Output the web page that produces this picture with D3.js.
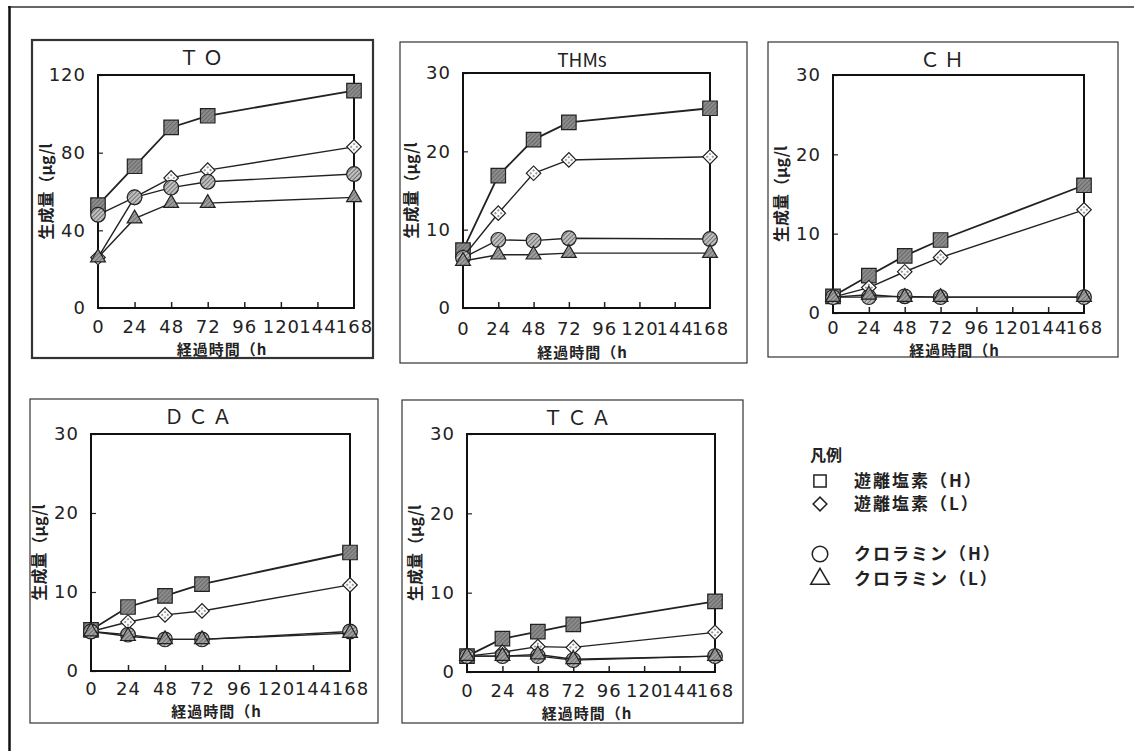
<!DOCTYPE html>
<html>
<head>
<meta charset="utf-8">
<script src="https://cdn.jsdelivr.net/npm/d3@7"></script>
<style>
  body { margin: 0; background: #fff; }
  svg { display: block; }
  .jp { font-family: "Noto Sans CJK JP", sans-serif; fill: #222; }
</style>
</head>
<body>
<div id="chart"></div>
<script>
// hours after chlorination
var hours = [0, 24, 48, 72, 168]
var xTicks = [0, 24, 48, 72, 96, 120, 144, 168]

var seriesNames = ["遊離塩素（H）", "遊離塩素（L）", "クロラミン（H）", "クロラミン（L）"]
var seriesShapes = ["square", "diamond", "circle", "triangle"]

// values per panel: [free H, free L, chloramine H, chloramine L]
var toValues = [
    [53, 73, 93, 99, 112],
    [26, 57, 67, 71, 83],
    [48, 57, 62, 65, 69],
    [26, 46, 54, 54, 57]
]
var thmValues = [
    [7.4, 16.9, 21.5, 23.7, 25.5],
    [6.5, 12.1, 17.2, 18.9, 19.3],
    [6.4, 8.7, 8.6, 8.9, 8.8],
    [6.0, 6.8, 6.8, 7.0, 7.0]
]
var chValues = [
    [2.1, 4.7, 7.2, 9.2, 16.1],
    [2.0, 3.2, 5.2, 7.0, 13.0],
    [2.0, 2.0, 2.1, 2.0, 2.0],
    [2.0, 2.3, 2.0, 2.0, 2.0]
]
var dcaValues = [
    [5.2, 8.1, 9.5, 11.0, 15.0],
    [5.0, 6.2, 7.1, 7.6, 10.9],
    [5.0, 4.6, 4.0, 4.0, 5.0],
    [5.0, 4.4, 4.0, 4.0, 4.8]
]
var tcaValues = [
    [2.0, 4.2, 5.1, 6.0, 8.9],
    [2.0, 2.5, 3.2, 3.1, 5.0],
    [2.0, 2.0, 2.0, 1.5, 2.0],
    [2.0, 2.0, 2.2, 1.6, 2.0]
]

var titles = ["ＴＯ", "THMs", "ＣＨ", "ＤＣＡ", "ＴＣＡ"]
var yMaxes = [120, 30, 30, 30, 30]
var yTickSets = [[0, 40, 80, 120], [0, 10, 20, 30], [0, 10, 20, 30], [0, 10, 20, 30], [0, 10, 20, 30]]

var yLabel = "生成量（μg/l"
var xLabel = "経過時間（h"
var legendTitle = "凡例"

// layout: outer box, plot area, tick label / axis title offsets below the plot
var layout = [
    { box: [32, 40, 373, 358], plot: [98, 75, 354, 308], titleX: 203, tickY: 19, labelY: 47, heavy: true },
    { box: [400, 42, 747, 363], plot: [463, 73, 710, 308], titleX: 582, tickY: 21, labelY: 50 },
    { box: [768, 42, 1118, 357], plot: [833, 75, 1084, 313], titleX: 944, tickY: 15, labelY: 42.5 },
    { box: [30, 399, 378, 723], plot: [91, 434, 350, 671], titleX: 200, tickY: 18, labelY: 46 },
    { box: [402, 400, 743, 723], plot: [467, 434, 715, 672], titleX: 579, tickY: 19, labelY: 47 }
]
var panelData = [toValues, thmValues, chValues, dcaValues, tcaValues]

var w = 1134, h = 751

var svg = d3.select("#chart").append("svg")
    .attr("width", w)
    .attr("height", h)

// hatch patterns for the markers
var defs = svg.append("defs")

function hatch(id, bg, line, gap) {
    var p = defs.append("pattern")
        .attr("id", id)
        .attr("patternUnits", "userSpaceOnUse")
        .attr("width", gap).attr("height", gap)
        .attr("patternTransform", "rotate(45)")
    p.append("rect").attr("width", gap).attr("height", gap).attr("fill", bg)
    p.append("line").attr("x1", 0).attr("y1", 0).attr("x2", 0).attr("y2", gap)
        .attr("stroke", line).attr("stroke-width", 1.3)
}
hatch("hSquare", "#8c8c8c", "#555", 3)
hatch("hCircle", "#c0c0c0", "#444", 3)
hatch("hTriangle", "#a0a0a0", "#555", 3)
var dp = defs.append("pattern")
    .attr("id", "hDiamond")
    .attr("patternUnits", "userSpaceOnUse")
    .attr("width", 4).attr("height", 4)
dp.append("rect").attr("width", 4).attr("height", 4).attr("fill", "#fff")
dp.append("rect").attr("x", 1).attr("y", 1).attr("width", 2).attr("height", 2).attr("fill", "#999")

var markerFill = ["url(#hSquare)", "url(#hDiamond)", "url(#hCircle)", "url(#hTriangle)"]
var symbolType = {
    square: d3.symbolSquare,
    diamond: d3.symbolSquare,
    circle: d3.symbolCircle,
    triangle: d3.symbolTriangle
}
var symbolSize = { square: 210, diamond: 105, circle: 170, triangle: 95 }
var symbolRotate = { square: 0, diamond: 45, circle: 0, triangle: 0 }

// page frame
svg.append("line").attr("x1", 8).attr("y1", 7).attr("x2", w).attr("y2", 7)
    .attr("stroke", "#666").attr("stroke-width", 2)
svg.append("line").attr("x1", 9.5).attr("y1", 6).attr("x2", 9.5).attr("y2", h)
    .attr("stroke", "#111").attr("stroke-width", 2.5)

function styleTicks(sel) {
    sel.selectAll(".tick text")
        .attr("fill", "#222")
        .style("font-family", "'DejaVu Sans', sans-serif")
        .style("font-size", "18px")
        .style("letter-spacing", "1px")
}

layout.forEach(function(L, i) {
    var values = panelData[i]
    var g = svg.append("g")

    g.append("rect")
        .attr("x", L.box[0]).attr("y", L.box[1])
        .attr("width", L.box[2] - L.box[0]).attr("height", L.box[3] - L.box[1])
        .attr("fill", "none")
        .attr("stroke", "#333")
        .attr("stroke-width", L.heavy ? 2.2 : 1.2)

    var x = d3.scaleLinear().domain([0, 168]).range([L.plot[0], L.plot[2]])
    var y = d3.scaleLinear().domain([0, yMaxes[i]]).range([L.plot[3], L.plot[1]])

    // axes with inward ticks
    var xa = g.append("g")
        .attr("transform", "translate(0," + L.plot[3] + ")")
        .call(d3.axisBottom(x).tickValues(xTicks).tickSize(-6).tickFormat(d3.format("d")))
    xa.select(".domain").remove()
    xa.selectAll(".tick line").attr("stroke", "#222").attr("stroke-width", 1.5)
        .filter(function(d) { return d === 0 || d === 168 }).remove()
    styleTicks(xa)
    xa.selectAll(".tick text").attr("y", L.tickY).attr("dy", "0.35em")

    var ya = g.append("g")
        .attr("transform", "translate(" + L.plot[0] + ",0)")
        .call(d3.axisLeft(y).tickValues(yTickSets[i]).tickSize(-5).tickPadding(12))
    ya.select(".domain").remove()
    ya.selectAll(".tick line").attr("stroke", "#222").attr("stroke-width", 1.2)
    styleTicks(ya)

    g.append("rect")
        .attr("x", L.plot[0]).attr("y", L.plot[1])
        .attr("width", L.plot[2] - L.plot[0]).attr("height", L.plot[3] - L.plot[1])
        .attr("fill", "none")
        .attr("stroke", "#111")
        .attr("stroke-width", 2)

    g.append("text")
        .attr("class", "jp")
        .attr("x", L.titleX).attr("y", L.box[1] + 18)
        .attr("dy", "0.35em")
        .attr("text-anchor", "middle")
        .style("font-size", i === 1 ? "19px" : "20px")
        .style("letter-spacing", i === 1 ? "0px" : "4px")
        .text(titles[i])

    g.append("text")
        .attr("class", "jp")
        .attr("transform", "translate(" + (L.plot[0] - 52) + "," + ((L.plot[1] + L.plot[3]) / 2) + ") rotate(-90)")
        .attr("dy", "0.35em")
        .attr("text-anchor", "middle")
        .style("font-size", "16px")
        .style("font-weight", "bold")
        .text(yLabel)

    g.append("text")
        .attr("class", "jp")
        .attr("x", (L.plot[0] + L.plot[2]) / 2 - 4).attr("y", L.plot[3] + L.labelY)
        .attr("text-anchor", "middle")
        .style("font-size", "15px")
        .style("font-weight", "bold")
        .style("letter-spacing", "1px")
        .text(xLabel)

    var line = d3.line()
        .x(function(d, k) { return x(hours[k]) })
        .y(function(d) { return y(d) })

    values.forEach(function(vals, s) {
        g.append("path")
            .attr("d", line(vals))
            .attr("fill", "none")
            .attr("stroke", "#222")
            .attr("stroke-width", s === 0 ? 1.8 : 1.4)

        var shape = seriesShapes[s]
        g.selectAll(".m" + s)
            .data(vals)
            .enter().append("path")
            .attr("class", "m" + s)
            .attr("transform", function(d, k) {
                return "translate(" + x(hours[k]) + "," + y(d) + ") rotate(" + symbolRotate[shape] + ")"
            })
            .attr("d", d3.symbol().type(symbolType[shape]).size(symbolSize[shape]))
            .attr("fill", markerFill[s])
            .attr("stroke", "#222")
            .attr("stroke-width", 1.2)
    })
})

// legend
var lg = svg.append("g").attr("transform", "translate(808,0)")
lg.append("text")
    .attr("class", "jp")
    .attr("x", 2).attr("y", 455)
    .attr("dy", "0.35em")
    .style("font-size", "16px")
    .style("font-weight", "bold")
    .text(legendTitle)

var legendY = [481, 504, 554, 579]
var legendSize = { square: 150, diamond: 95, circle: 190, triangle: 150 }
seriesNames.forEach(function(name, s) {
    var shape = seriesShapes[s]
    lg.append("path")
        .attr("transform", "translate(12," + legendY[s] + ") rotate(" + symbolRotate[shape] + ")")
        .attr("d", d3.symbol().type(symbolType[shape]).size(legendSize[shape]))
        .attr("fill", "none")
        .attr("stroke", "#222")
        .attr("stroke-width", 1.5)
    lg.append("text")
        .attr("class", "jp")
        .attr("x", 46).attr("y", legendY[s])
        .attr("dy", "0.35em")
        .style("font-size", "17px")
        .style("letter-spacing", "2px")
        .style("font-weight", "bold")
        .text(name)
})
</script>
</body>
</html>
